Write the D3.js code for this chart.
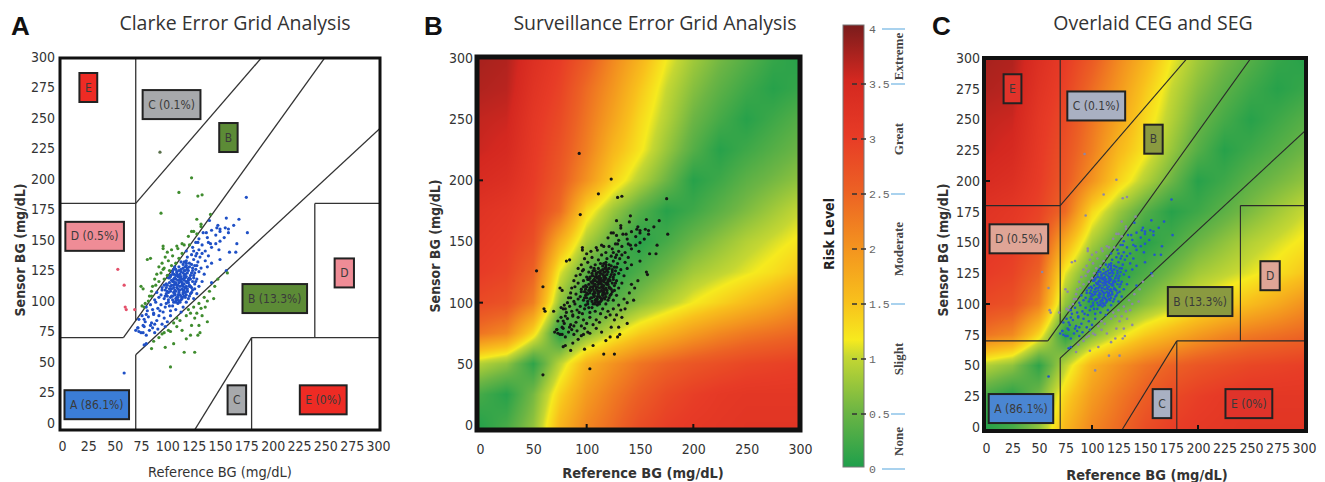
<!DOCTYPE html>
<html><head><meta charset="utf-8">
<script src="https://cdn.jsdelivr.net/npm/d3@7"></script>
<style>body{margin:0;background:#fff;}</style>
</head><body>
<svg id="chart" width="1325" height="482"></svg>
<script>
// ---------------- DATA ----------------
const ticks25 = [0,25,50,75,100,125,150,175,200,225,250,275,300];
const ticks50 = [0,50,100,150,200,250,300];

// paired readings (reference BG, sensor BG) in mg/dL
const refBG = [
 93,123,111,129,133,94,175,128,141,168,176,96,96,147,155,158,163,166,123,132,137,150,109,116,129,141,159,165,150,
 53,59,60,61,69,59,103,80,78,85,98,106,116,126,118,122,129,131,138,144,136,156,157,150,70,73,77,78,72,81,84,75,77,97,103,109,114,123,130,87,92,
 72,75,78,80,83,86,88,91,95,98,101,77,84,
 73,76,79,82,85,87,90,92,95,97,100,103,106,109,112,88,80,
 78,81,84,86,89,91,94,96,98,101,103,105,108,110,113,115,118,120,93,99,106,87,
 85,88,90,92,95,97,99,101,103,104,106,108,110,112,113,115,117,119,121,123,125,128,94,100,107,111,116,
 89,92,95,97,99,101,103,105,106,108,109,111,112,114,116,117,119,121,122,124,126,128,130,133,102,110,115,120,107,125,
 94,97,100,102,104,106,108,110,111,113,115,117,118,120,122,124,126,128,130,132,135,138,112,116,121,127,
 101,105,108,111,114,116,119,121,123,125,127,129,131,133,136,139,142,118,128,
 110,114,118,121,124,127,130,133,136,139,142,146,149,125,
 120,125,130,134,138,142,146,150,154,158,128,
 132,140,148,156,
 104,106,108,110,112,114,116,118,113,109,107,111,115,117,119,121,123,120,118,116,114,112,110,108,106,104,102,105,109,113,117,119,123,125,127,126,124,122,120,118,114,112,110,108,105,103,101,99,98,100,102,111,115,119,123,113,117,107,103,97,
 125,130,135,128,132,140,138,122,118,126,133,145,142,148,
 82,85,80,88,90,86,92,95,98,100,104,96,83,79,76,
 105,107,109,111,113,115,117,119,121,104,106,108,110,112,114,116,118,120,103,105,107,109,111,113,115,117,119,108,110,112,114,116,106,118,122,100,124,102,126,98
];
const sensorBG = [
 222,201,189,186,187,172,185,167,171,167,156,145,143,160,160,159,162,147,157,161,156,157,145,146,148,147,140,140,149,
 126,113,95,93,93,41,46,65,64,61,62,65,58,58,69,72,72,74,83,102,95,125,123,134,76,75,74,85,78,134,135,112,110,74,75,79,76,80,80,67,70,
 78,74,79,72,76,78,74,77,73,79,76,80,80,
 85,88,83,87,82,89,84,88,81,86,83,88,82,86,84,81,89,
 95,92,97,93,99,94,97,91,95,99,92,96,93,98,91,95,99,93,92,98,99,90,
 104,101,107,103,109,102,106,101,108,104,107,102,105,109,101,106,103,108,104,107,102,106,105,104,109,100,109,
 113,116,111,118,114,119,112,116,113,118,111,115,119,113,117,111,115,119,112,116,114,118,112,116,115,117,112,118,114,119,
 123,127,121,125,129,122,126,121,128,124,127,122,129,125,121,127,123,129,124,127,122,128,122,125,128,126,
 133,137,131,135,139,132,136,131,138,134,137,132,136,139,133,137,131,133,139,
 143,147,141,146,144,148,142,146,141,148,144,147,142,141,
 153,157,151,156,152,158,154,159,152,156,155,
 163,166,162,168,
 110,111,108,110,112,110,114,112,116,113,105,107,109,107,110,113,111,115,120,121,118,117,120,121,118,117,119,124,123,120,119,123,123,121,116,110,109,106,102,105,103,105,103,99,101,103,107,111,109,113,110,125,130,127,130,132,125,128,121,113,
 95,98,103,90,94,108,100,90,88,86,88,112,115,118,
 100,108,95,118,122,112,128,131,136,140,142,126,104,98,96,
 104,106,103,109,104,107,111,108,112,113,116,115,113,118,115,119,116,117,120,122,119,124,121,126,123,128,126,100,101,99,102,104,126,131,118,108,125,96,129,104
];

// Clarke error grid zone boundaries [x1, y1, x2, y2]
const cegSegments = [
 [0,70,175/3,70],[175/3,70,400/1.2,400],[70,84,70,400],[0,180,70,180],[70,180,290,400],
 [70,0,70,56],[70,56,400,320],[180,0,180,70],[180,70,400,70],[240,70,240,180],[240,180,400,180],[130,0,180,70]
];
const zoneLabelText = ["E","C (0.1%)","B","D (0.5%)","D","B (13.3%)","A (86.1%)","C","E (0%)"];
const zoneLabelZone = ["E","C","B","D","D","B","A","C","E"];
const zoneLabelRef  = [25,104,158,31,268,202,33,166,248];
const zoneLabelSens = [275,261,234,153,123,102,15,19,19];

// Surveillance error grid risk surface, sampled every 25 mg/dL (rows = sensor BG, cols = reference BG)
const gridRef = [0,25,50,75,100,125,150,175,200,225,250,275,300];
const gridSens = [0,25,50,75,100,125,150,175,200,225,250,275,300];
const riskGrid = [
 [0.05,0.25,0.7,1.6,2.1,2.4,2.75,2.95,3.05,3.1,3.15,3.15,3.15],
 [0.25,0.05,0.55,1.35,1.9,2.25,2.55,2.8,2.95,3.05,3.1,3.1,3.1],
 [0.9,0.7,0.1,0.95,1.65,2.0,2.3,2.5,2.65,2.75,2.85,2.9,2.95],
 [2.3,2.1,1.3,0.05,0.6,1.05,1.4,1.65,1.9,2.1,2.25,2.35,2.45],
 [2.8,2.7,2.2,0.7,0.05,0.35,0.65,0.9,1.15,1.35,1.55,1.75,2.0],
 [3.0,2.9,2.5,1.1,0.4,0.05,0.3,0.55,0.8,0.95,1.1,1.25,1.45],
 [3.1,3.0,2.75,1.7,0.85,0.4,0.05,0.25,0.5,0.7,0.9,1.05,1.2],
 [3.2,3.1,2.9,2.4,1.3,0.75,0.35,0.05,0.2,0.4,0.6,0.8,1.0],
 [3.4,3.3,3.0,2.6,2.0,1.35,0.9,0.5,0.05,0.2,0.4,0.55,0.7],
 [3.55,3.45,3.05,2.7,2.2,1.6,1.2,0.75,0.35,0.05,0.2,0.35,0.5],
 [3.6,3.55,3.1,2.8,2.3,1.8,1.3,0.9,0.5,0.25,0.05,0.2,0.35],
 [3.7,3.65,3.2,2.9,2.4,1.95,1.45,1.0,0.65,0.4,0.2,0.05,0.15],
 [3.75,3.7,3.3,3.0,2.6,2.1,1.65,1.15,0.8,0.55,0.35,0.15,0.05]
];
const riskTicks = [0,0.5,1,1.5,2,2.5,3,3.5,4];
const riskTickLabels = ["0","0.5","1","1.5","2","2.5","3","3.5","4"];
const riskCategories = ["None","Slight","Moderate","Great","Extreme"];
const riskCatLow = [0,0.5,1.5,2.5,3.5];
const riskCatHigh = [0.5,1.5,2.5,3.5,4];

// ---------------- DRAWING ----------------
const svg = d3.select("#chart");
const NARROW = "'Liberation Sans Narrow','Arial Narrow','DejaVu Sans Condensed',sans-serif";
const TITLEF = "'Open Sans','Noto Sans',sans-serif";

const riskColor = d3.scaleLinear()
  .domain([0,0.5,1,1.15,1.5,2,2.5,3,3.5,4])
  .range(["#1f9f4b","#6cb544","#c5d732","#f6ea1e","#f8c01c","#f3921f","#ec6124","#e73b26","#d42820","#7a1c1c"])
  .clamp(true);

function clarkeZone(r, s){
  if ((r <= 70 && s <= 70) || (s <= 1.2*r && s >= 0.8*r)) return "A";
  if ((r >= 180 && s <= 70) || (r <= 70 && s >= 180)) return "E";
  if (((r >= 70 && r <= 290) && s >= r + 110) || ((r >= 130 && r <= 180) && s <= (7/5)*r - 182)) return "C";
  if ((r >= 240 && s >= 70 && s <= 180) || (r <= 175/3 && s <= 180 && s >= 70) || ((r >= 175/3 && r <= 70) && s >= 1.2*r)) return "D";
  return "B";
}
function riskAt(x, y){
  const cx = Math.max(0, Math.min(gridRef.length-1.0001, x/25));
  const cy = Math.max(0, Math.min(gridSens.length-1.0001, y/25));
  const i = Math.floor(cx), j = Math.floor(cy), fx = cx-i, fy = cy-j;
  const v00 = riskGrid[j][i], v10 = riskGrid[j][i+1], v01 = riskGrid[j+1][i], v11 = riskGrid[j+1][i+1];
  return v00*(1-fx)*(1-fy) + v10*fx*(1-fy) + v01*(1-fx)*fy + v11*fx*fy;
}

const panels = [
  {id:"A", title:"Clarke Error Grid Analysis", letterX:11, titleX:235, xr:[62,378], yr:[423,57], box:[60,58,380,430],
   ticks:ticks25, xLabY:441, yLabX:55, xTitleX:220, xTitleY:477, yTitleX:25, yTitleY:250, heat:false, ceg:true, bw:3},
  {id:"B", title:"Surveillance Error Grid Analysis", letterX:424, titleX:655, xr:[480,800], yr:[425,58], box:[477,57,800,430],
   ticks:ticks50, xLabY:444, yLabX:473, xTitleX:643, xTitleY:478, yTitleX:440, yTitleY:246, heat:true, ceg:false, bw:5},
  {id:"C", title:"Overlaid CEG and SEG", letterX:932, titleX:1153, xr:[986,1304], yr:[427,58], box:[984,58,1306,431],
   ticks:ticks25, xLabY:443, yLabX:980, xTitleX:1147, xTitleY:480, yTitleX:948, yTitleY:250, heat:true, ceg:true, bw:4}
];

const zoneFillA = {E:"#ee2b24", C:"#a7a9ac", B:"#5c8b36", D:"#ef8c96", A:"#3b7dd6"};
const zoneFillC = {E:"#e0332a", C:"#a9b0c2", B:"#8a9a40", D:"#dfa596", A:"#4a86d2"};
const ptColorA = {A:"#1f50c6", B:"#3f8c2e", C:"#59704a", D:"#e4506a", E:"#e02020"};

panels.forEach(p => {
  const g = svg.append("g");
  const x = d3.scaleLinear().domain([0,300]).range(p.xr);
  const y = d3.scaleLinear().domain([0,300]).range(p.yr);
  const [bx0,by0,bx1,by1] = p.box;

  // letter & title
  g.append("text").attr("x",p.letterX).attr("y",35).text(p.id)
    .attr("font-family","'Liberation Sans',Arial,sans-serif").attr("font-weight","bold").attr("font-size",26).attr("fill","#111");
  g.append("text").attr("x",p.titleX).attr("y",30).attr("text-anchor","middle").text(p.title)
    .attr("font-family",TITLEF).attr("font-size",19.5).attr("fill","#333");

  const clipId = "clip"+p.id;
  svg.append("defs").append("clipPath").attr("id",clipId)
    .append("rect").attr("x",bx0).attr("y",by0).attr("width",bx1-bx0).attr("height",by1-by0);
  const inner = g.append("g").attr("clip-path",`url(#${clipId})`);

  if (p.heat){
    const w = bx1-bx0, h = by1-by0;
    const cv = document.createElement("canvas"); cv.width = w; cv.height = h;
    const ctx = cv.getContext("2d");
    const img = ctx.createImageData(w,h);
    for (let py=0; py<h; py++){
      const dy = y.invert(by0+py+0.5);
      for (let px=0; px<w; px++){
        const dx = x.invert(bx0+px+0.5);
        const c = d3.rgb(riskColor(riskAt(dx,dy)));
        const k = (py*w+px)*4;
        img.data[k]=c.r; img.data[k+1]=c.g; img.data[k+2]=c.b; img.data[k+3]=255;
      }
    }
    ctx.putImageData(img,0,0);
    inner.append("image").attr("x",bx0).attr("y",by0).attr("width",w).attr("height",h)
      .attr("href",cv.toDataURL());
  } else {
    inner.append("rect").attr("x",bx0).attr("y",by0).attr("width",bx1-bx0).attr("height",by1-by0).attr("fill","#fff");
  }

  if (p.ceg){
    cegSegments.forEach(sg => {
      let [x1,y1,x2,y2] = sg;
      // extend segments that start on the axes so they reach the frame
      if (y1 === 0){ const t = 12/(y2-y1); x1 = x1-(x2-x1)*t; y1 = -12; }
      if (x1 === 0){ x1 = -12; }
      inner.append("line").attr("x1",x(x1)).attr("y1",y(y1)).attr("x2",x(x2)).attr("y2",y(y2))
        .attr("stroke", p.id==="A" ? "#333" : "#2a2a2a").attr("stroke-width", p.id==="A"?1.3:1.1);
    });
  }

  // points
  const pts = refBG.map((r,i)=>({r, s:sensorBG[i], z:clarkeZone(r,sensorBG[i])}));
  inner.selectAll("circle.pt").data(pts).enter().append("circle")
    .attr("cx",d=>x(d.r)).attr("cy",d=>y(d.s))
    .attr("r", p.id==="B"?1.6:(p.id==="A"?1.6:1.3))
    .attr("fill", d => p.id==="A" ? ptColorA[d.z] : (p.id==="B" ? "#161616" : (d.z==="A" ? "#2454cc" : "#8d87a6")));

  // zone labels
  if (p.ceg){
    const fills = p.id==="A" ? zoneFillA : zoneFillC;
    zoneLabelText.forEach((t,i)=>{
      const cx = x(zoneLabelRef[i]), cy = y(zoneLabelSens[i]);
      const tx = inner.append("text").attr("x",cx).attr("y",cy+4).attr("text-anchor","middle")
        .attr("font-family",NARROW).attr("font-size",12).attr("fill","#3a3a3a").text(t);
      const tw = tx.node().getComputedTextLength();
      const bwid = Math.max(17, tw+11), bh = 29;
      inner.insert("rect", function(){ return tx.node(); })
        .attr("x",cx-bwid/2).attr("y",cy-bh/2).attr("width",bwid).attr("height",bh)
        .attr("fill",fills[zoneLabelZone[i]]).attr("stroke","#222").attr("stroke-width",2);
    });
  }

  // small inner ticks on B and C
  if (p.heat){
    [100,200].forEach(v=>{
      g.append("line").attr("x1",x(v)).attr("x2",x(v)).attr("y1",by1).attr("y2",by1-6).attr("stroke","#111").attr("stroke-width",2);
      g.append("line").attr("y1",y(v)).attr("y2",y(v)).attr("x1",bx0).attr("x2",bx0+6).attr("stroke","#111").attr("stroke-width",2);
    });
  }

  // frame
  g.append("rect").attr("x",bx0).attr("y",by0).attr("width",bx1-bx0).attr("height",by1-by0)
    .attr("fill","none").attr("stroke","#111").attr("stroke-width",p.bw);

  // axes
  const ax = g.append("g").attr("transform",`translate(0,${p.xLabY})`)
    .call(d3.axisBottom(x).tickValues(p.ticks).tickSize(0).tickPadding(0));
  ax.select(".domain").remove();
  ax.attr("font-family",NARROW).attr("font-size",14);
  ax.selectAll("text").attr("fill","#333");
  const ay = g.append("g").attr("transform",`translate(${p.yLabX},0)`)
    .call(d3.axisLeft(y).tickValues(p.ticks).tickSize(0).tickPadding(0));
  ay.select(".domain").remove();
  ay.attr("font-family",NARROW).attr("font-size",14);
  ay.selectAll("text").attr("fill","#333");

  g.append("text").attr("x",p.xTitleX).attr("y",p.xTitleY).attr("text-anchor","middle")
    .attr("font-family",NARROW).attr("font-size",14.5).attr("fill","#333")
    .attr("font-weight", p.id==="A" ? "normal" : "bold").text("Reference BG (mg/dL)");
  g.append("text").attr("transform",`translate(${p.yTitleX},${p.yTitleY}) rotate(-90)`).attr("text-anchor","middle")
    .attr("font-family",NARROW).attr("font-size",14).attr("font-weight","bold").attr("fill","#333")
    .text("Sensor BG (mg/dL)");
});

// ---------------- COLOR BAR ----------------
const cb = svg.append("g");
const cbY = d3.scaleLinear().domain([0,4]).range([469,29]);
const grad = svg.append("defs").append("linearGradient").attr("id","riskGrad")
  .attr("x1",0).attr("y1",1).attr("x2",0).attr("y2",0);
riskColor.domain().forEach(v => grad.append("stop").attr("offset",v/4).attr("stop-color",riskColor(v)));
cb.append("rect").attr("x",843).attr("y",cbY(4)-4).attr("width",21).attr("height",cbY(0)-cbY(4)+2)
  .attr("fill","url(#riskGrad)").attr("stroke","#777").attr("stroke-width",1);
riskTicks.forEach((v,i)=>{
  if (v>0 && v<4){
    cb.append("line").attr("x1",852).attr("x2",869).attr("y1",cbY(v)).attr("y2",cbY(v))
      .attr("stroke","#333").attr("stroke-width",1.3).attr("stroke-dasharray","5,4");
  }
  cb.append("text").attr("x",869).attr("y",cbY(v)+4).text(riskTickLabels[i])
    .attr("font-family","'Liberation Mono','DejaVu Sans Mono',monospace").attr("font-size",11.5).attr("fill","#666");
});
[0,0.5,1.5,2.5,3.5,4].forEach(v=>{
  const x1 = (v===0||v===4) ? 882 : 891;
  cb.append("line").attr("x1",x1).attr("x2",905).attr("y1",cbY(v)).attr("y2",cbY(v))
    .attr("stroke","#8cc3e8").attr("stroke-width",1.5);
});
riskCategories.forEach((c,i)=>{
  const m = cbY((riskCatLow[i]+riskCatHigh[i])/2);
  cb.append("text").attr("transform",`translate(903,${m}) rotate(-90)`).attr("text-anchor","middle")
    .attr("font-family","'Liberation Serif','DejaVu Serif',serif").attr("font-weight","bold").attr("font-size",13)
    .attr("fill","#444").text(c);
});
cb.append("text").attr("transform","translate(834,234) rotate(-90)").attr("text-anchor","middle")
  .attr("font-family",NARROW).attr("font-weight","bold").attr("font-size",14).attr("fill","#222").text("Risk Level");
</script>
</body></html>
